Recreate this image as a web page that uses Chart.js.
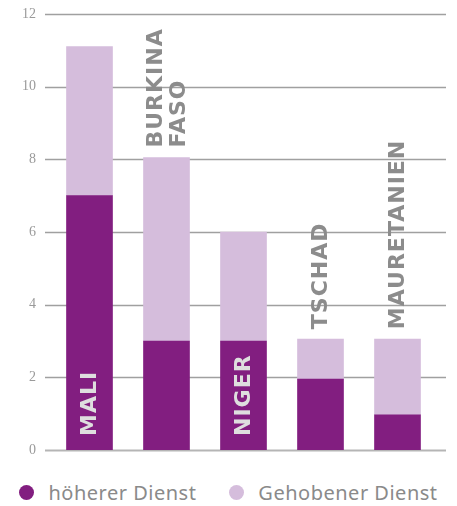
<!DOCTYPE html>
<html>
<head>
<meta charset="utf-8">
<script src="https://cdn.jsdelivr.net/npm/chart.js@4"></script>
<style>
    html, body { margin: 0; padding: 0; background: #fff; }
    #wrap { width: 457px; height: 470px; position: relative; }
    #legend {
        display: flex;
        justify-content: center;
        align-items: center;
        gap: 33px;
        height: 44px;
        font-family: "Noto Sans", sans-serif;
        font-size: 20px;
        letter-spacing: 0.5px;
        color: #8a8a8a;
    }
    .legend-item { display: flex; align-items: center; }
    .legend-dot { width: 15px; height: 15px; border-radius: 50%; margin-right: 14px; }
</style>
</head>
<body>
<div id="wrap"><canvas id="chart"></canvas></div>
<div id="legend"></div>
<script>
const countries = [['MALI'], ['BURKINA', 'FASO'], ['NIGER'], ['TSCHAD'], ['MAURETANIEN']];
const labelInside = [true, false, true, false, false];
const hoehererDienst = [7, 3, 3, 1.95, 0.97];
const gehobenerDienst = [4.1, 5.05, 3, 1.1, 2.08];
const seriesNames = ['höherer Dienst', 'Gehobener Dienst'];
const seriesColors = ['#821e80', '#d5bddc'];

// horizontal grid drawn a bit wider than the bars' area
const gridPlugin = {
    id: 'wideGrid',
    beforeDatasetsDraw(chart) {
        const ctx = chart.ctx;
        const y = chart.scales.y;
        ctx.save();
        y.ticks.forEach(t => {
            const py = Math.round(y.getPixelForValue(t.value)) + 0.5;
            ctx.strokeStyle = t.value === 0 ? '#b5b5b5' : '#a0a0a0';
            ctx.lineWidth = t.value === 0 ? 2 : 1.3;
            ctx.beginPath();
            ctx.moveTo(chart.chartArea.left - 6, py);
            ctx.lineTo(chart.chartArea.right + 10, py);
            ctx.stroke();
        });
        ctx.restore();
    }
};

const countryLabels = {
    id: 'countryLabels',
    afterDatasetsDraw(chart) {
        const ctx = chart.ctx;
        const low = chart.getDatasetMeta(0).data;
        const high = chart.getDatasetMeta(1).data;
        ctx.save();
        ctx.font = 'bold 22px "DejaVu Sans"';
        ctx.letterSpacing = '1px';
        ctx.textAlign = 'left';
        ctx.textBaseline = 'middle';
        countries.forEach((lines, i) => {
            const inside = labelInside[i];
            const x = low[i].x;
            const start = inside ? low[i].base - 14 : high[i].y - 10;
            ctx.fillStyle = inside ? '#dedede' : '#8c8c8c';
            ctx.save();
            ctx.translate(x, start);
            ctx.rotate(-Math.PI / 2);
            lines.forEach((line, j) => {
                ctx.fillText(line, 0, (j - (lines.length - 1) / 2) * 23 + 1);
            });
            ctx.restore();
        });
        ctx.restore();
    }
};

const chart = new Chart(document.getElementById('chart'), {
    type: 'bar',
    data: {
        labels: countries.map(c => c.join(' ')),
        datasets: [
            { label: seriesNames[0], data: hoehererDienst, backgroundColor: seriesColors[0] },
            { label: seriesNames[1], data: gehobenerDienst, backgroundColor: seriesColors[1] }
        ]
    },
    options: {
        responsive: true,
        maintainAspectRatio: false,
        animation: false,
        layout: { padding: { top: 0, right: 21, bottom: 0, left: 0 } },
        plugins: {
            legend: { display: false },
            tooltip: { enabled: false }
        },
        datasets: { bar: { barThickness: 46 } },
        scales: {
            x: { stacked: true, display: false },
            y: {
                stacked: true,
                min: 0,
                max: 12,
                border: { display: false },
                grid: { display: false, drawTicks: false },
                ticks: {
                    stepSize: 2,
                    padding: 15,
                    color: '#9a9a9a',
                    font: { family: '"Liberation Serif", serif', size: 14 }
                },
                afterFit(scale) {
                    scale.width = 51;
                    scale.paddingTop = 14;
                    scale.paddingBottom = 20;
                }
            }
        }
    },
    plugins: [gridPlugin, countryLabels]
});

const legendEl = document.getElementById('legend');
seriesNames.forEach((name, i) => {
    const item = document.createElement('div');
    item.className = 'legend-item';
    item.innerHTML = `<span class="legend-dot" style="background:${seriesColors[i]}"></span><span>${name}</span>`;
    legendEl.appendChild(item);
});
</script>
</body>
</html>
